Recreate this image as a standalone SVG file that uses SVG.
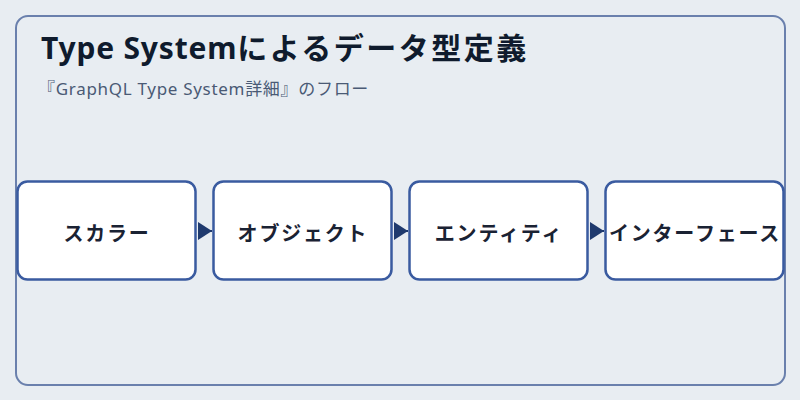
<svg xmlns="http://www.w3.org/2000/svg" width="800" height="400" viewBox="0 0 800 400">
<style>
.frame{fill:#e8edf2;stroke:#6a80ad;stroke-width:2}
.box{fill:#ffffff;stroke:#3a5ba0;stroke-width:2.5}
.lbl{font-family:"Noto Sans CJK JP","Noto Sans",sans-serif;font-weight:700;font-size:20px;fill:#1a2233;text-anchor:middle;dominant-baseline:central;letter-spacing:1.8px}
.title{font-family:"Noto Sans","Noto Sans CJK JP",sans-serif;font-weight:700;font-size:30px;fill:#0f1b2d}
.sub{font-family:"Noto Sans","Noto Sans CJK JP",sans-serif;font-size:17px;letter-spacing:0.7px;fill:#4a5a75}
.conn{stroke:#1f3a6e;stroke-width:2;fill:none}
</style>
<defs>
<marker id="arr" viewBox="0 0 14 18" refX="14" refY="9" markerWidth="14" markerHeight="18" markerUnits="userSpaceOnUse" orient="auto">
<path d="M0,0 L14,9 L0,18 Z" fill="#1f3a6e"/>
</marker>
</defs>
<rect width="800" height="400" fill="#e8edf2"/>
<rect class="frame" x="16" y="16" width="769" height="369" rx="12"/>
<text class="title" x="41" y="59"><tspan letter-spacing="0.8">Type System</tspan><tspan letter-spacing="2.5">によるデータ型定義</tspan></text>
<text class="sub" x="38" y="95">『GraphQL Type System詳細』のフロー</text>
<g id="connectors">
<path class="conn" d="M198,231 L212,231" marker-end="url(#arr)"/>
<path class="conn" d="M394,231 L408,231" marker-end="url(#arr)"/>
<path class="conn" d="M590,231 L604,231" marker-end="url(#arr)"/>
</g>
<g id="node1">
<rect class="box" x="17.5" y="181.5" width="178" height="98" rx="10"/>
<text class="lbl" x="107" y="232">スカラー</text>
</g>
<g id="node2">
<rect class="box" x="213.5" y="181.5" width="178" height="98" rx="10"/>
<text class="lbl" x="303" y="232">オブジェクト</text>
</g>
<g id="node3">
<rect class="box" x="409.5" y="181.5" width="178" height="98" rx="10"/>
<text class="lbl" x="499" y="232">エンティティ</text>
</g>
<g id="node4">
<rect class="box" x="605.5" y="181.5" width="178" height="98" rx="10"/>
<text class="lbl" x="695" y="232">インターフェース</text>
</g>
</svg>
